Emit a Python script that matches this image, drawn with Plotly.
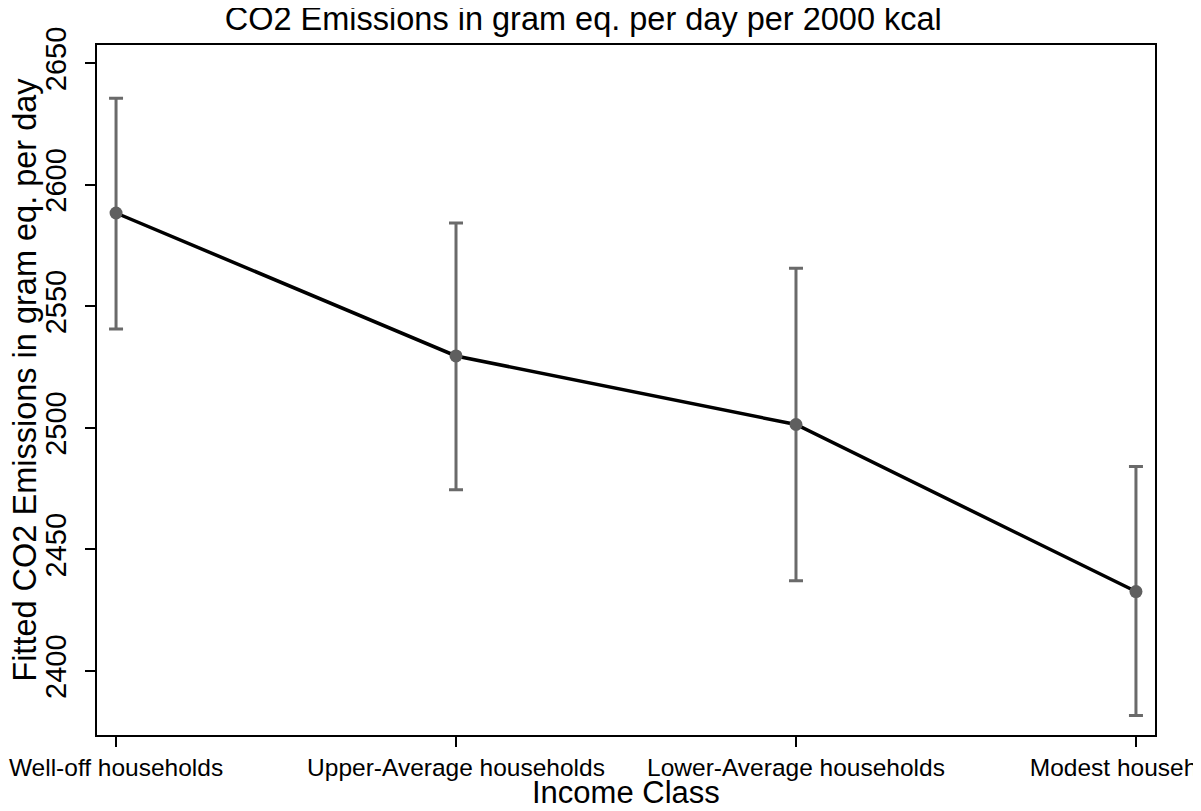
import plotly.graph_objects as go

categories = ["Well-off households", "Upper-Average households", "Lower-Average households", "Modest households"]
fitted = [2588.4, 2529.6, 2501.4, 2432.7]
upper = [2635.6, 2584.3, 2565.7, 2484.1]
lower = [2540.7, 2474.6, 2437.1, 2381.7]
y_ticks = [2400, 2450, 2500, 2550, 2600, 2650]
title_text = "CO2 Emissions in gram eq. per day per 2000 kcal"
x_title = "Income Class"
y_title = "Fitted CO2 Emissions in gram eq. per day"

err_plus = [u - f for u, f in zip(upper, fitted)]
err_minus = [f - l for f, l in zip(fitted, lower)]

fig = go.Figure()
fig.add_trace(go.Scatter(
    x=categories, y=fitted, mode="lines",
    line=dict(color="black", width=3.5), showlegend=False, hoverinfo="skip"))
fig.add_trace(go.Scatter(
    x=categories, y=fitted, mode="markers",
    marker=dict(color="#5f5f5f", size=13),
    error_y=dict(type="data", symmetric=False, array=err_plus, arrayminus=err_minus,
                 color="#6a6a6a", thickness=3, width=7),
    showlegend=False))

font_family = "Liberation Sans, Arial, sans-serif"
fig.update_layout(
    width=1201, height=811,
    margin=dict(l=89, r=54, t=37, b=84),
    paper_bgcolor="white", plot_bgcolor="white",
    font=dict(family=font_family, color="black"),
    title=dict(text=title_text,
               x=0.479, xanchor="center", y=0.987, yanchor="middle",
               font=dict(size=32.5, color="black")),
    xaxis=dict(type="category", range=[-0.056, 3.056], automargin=False,
               showline=True, linecolor="black", linewidth=2, mirror=True,
               ticks="outside", ticklen=10, tickwidth=1.5, tickcolor="black",
               showgrid=False, tickfont=dict(size=24.5)),
    yaxis=dict(range=[2373.7, 2657.5], tickvals=y_ticks, automargin=False,
               showline=True, linecolor="black", linewidth=2, mirror=True,
               ticks="outside", ticklen=10, tickwidth=1.5, tickcolor="black",
               showgrid=False, zeroline=False, tickangle=-90, tickfont=dict(size=29),
               ticklabelstandoff=7),
    annotations=[
        dict(text=x_title, xref="paper", yref="paper", x=0.5, y=-0.083,
             xanchor="center", yanchor="middle", showarrow=False,
             font=dict(size=31, color="black")),
        dict(text=y_title, xref="paper", yref="paper", x=-0.068, y=0.515,
             xanchor="center", yanchor="middle", textangle=-90, showarrow=False,
             font=dict(size=32.5, color="black")),
    ],
)

fig.write_html("out.html")
